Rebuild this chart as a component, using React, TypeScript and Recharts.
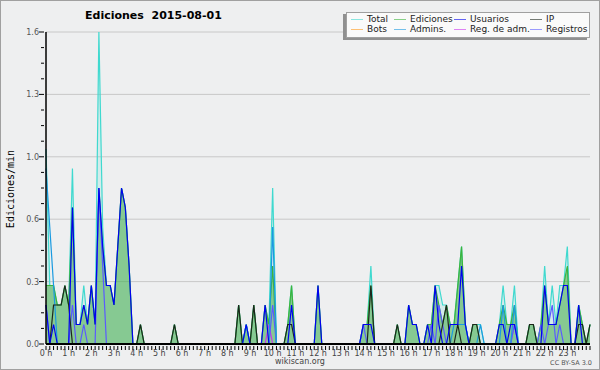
import React from 'react';
import { ComposedChart, Area, Line, XAxis, YAxis, CartesianGrid } from 'recharts';

// 10-minute slots, 0..144 (00:00 .. 24:00), values in edits/min
const TOTAL = [
  1.0, 0.3, 0.3, 0.2, 0.2, 0.3,
  0.2, 0.9, 0.1, 0.1, 0.3, 0.1,
  0.3, 0.1, 1.6, 0.6, 0.3, 0.3,
  0.2, 0.5, 0.8, 0.7, 0.4, 0,
  0, 0.1, 0, 0, 0, 0,
  0, 0, 0, 0, 0.1, 0,
  0, 0, 0, 0, 0, 0,
  0, 0, 0, 0, 0, 0,
  0, 0, 0, 0.2, 0, 0.1,
  0, 0.2, 0, 0, 0.2, 0.1,
  0.8, 0, 0, 0, 0.1, 0.3,
  0, 0, 0, 0, 0, 0,
  0.3, 0, 0, 0, 0, 0,
  0, 0, 0, 0, 0, 0,
  0.1, 0.1, 0.4, 0, 0, 0,
  0, 0, 0, 0.1, 0, 0,
  0.2, 0.1, 0.1, 0, 0, 0.1,
  0.1, 0.3, 0.3, 0.2, 0.2, 0.1,
  0.1, 0.3, 0.5, 0.1, 0, 0.1,
  0.1, 0.1, 0, 0, 0, 0,
  0.1, 0.3, 0.1, 0.1, 0.3, 0,
  0, 0, 0.1, 0.1, 0, 0.1,
  0.4, 0.1, 0.3, 0.1, 0.3, 0.3,
  0.5, 0, 0, 0.2, 0.1, 0,
  0.1,
];

const EDICIONES = [
  0.3, 0.3, 0.3, 0.2, 0.2, 0.3,
  0.2, 0.7, 0.1, 0.1, 0.2, 0.1,
  0.3, 0.1, 0.8, 0.5, 0.3, 0.3,
  0.2, 0.5, 0.8, 0.7, 0.4, 0,
  0, 0.1, 0, 0, 0, 0,
  0, 0, 0, 0, 0.1, 0,
  0, 0, 0, 0, 0, 0,
  0, 0, 0, 0, 0, 0,
  0, 0, 0, 0.2, 0, 0.1,
  0, 0.2, 0, 0, 0.2, 0.1,
  0.4, 0, 0, 0, 0.1, 0.3,
  0, 0, 0, 0, 0, 0,
  0.3, 0, 0, 0, 0, 0,
  0, 0, 0, 0, 0, 0,
  0.1, 0.1, 0.3, 0, 0, 0,
  0, 0, 0, 0.1, 0, 0,
  0.2, 0.1, 0.1, 0, 0, 0.1,
  0.1, 0.3, 0.2, 0.1, 0.2, 0.1,
  0.1, 0.3, 0.5, 0.1, 0, 0.1,
  0.1, 0, 0, 0, 0, 0,
  0.1, 0.2, 0.1, 0.1, 0.2, 0,
  0, 0, 0.1, 0.1, 0, 0.1,
  0.3, 0.1, 0.1, 0.1, 0.2, 0.3,
  0.4, 0, 0, 0.2, 0.1, 0,
  0.1,
];

const USUARIOS = [
  0.2, 0, 0.1, 0, 0, 0,
  0, 0.7, 0.1, 0.1, 0.2, 0.1,
  0.3, 0.1, 0.8, 0.5, 0.3, 0.3,
  0.2, 0.5, 0.8, 0.7, 0.4, 0,
  0, 0, 0, 0, 0, 0,
  0, 0, 0, 0, 0, 0,
  0, 0, 0, 0, 0, 0,
  0, 0, 0, 0, 0, 0,
  0, 0, 0, 0, 0, 0.1,
  0, 0, 0, 0, 0.2, 0,
  0, 0, 0, 0, 0, 0.2,
  0, 0, 0, 0, 0, 0,
  0.3, 0, 0, 0, 0, 0,
  0, 0, 0, 0, 0, 0,
  0.1, 0.1, 0.1, 0, 0, 0,
  0, 0, 0, 0, 0, 0,
  0.2, 0.1, 0.1, 0, 0, 0.1,
  0, 0.3, 0.1, 0, 0, 0.1,
  0.1, 0.1, 0.4, 0.1, 0, 0,
  0, 0, 0, 0, 0, 0,
  0.1, 0.1, 0, 0.1, 0.1, 0,
  0, 0, 0, 0, 0, 0,
  0.3, 0.1, 0.1, 0.1, 0.2, 0.3,
  0.3, 0, 0, 0.2, 0, 0,
  0,
];

const IP = [
  0, 0, 0.2, 0.2, 0.2, 0.3,
  0.2, 0, 0, 0, 0, 0,
  0, 0, 0, 0, 0, 0,
  0, 0, 0, 0, 0, 0,
  0, 0.1, 0, 0, 0, 0,
  0, 0, 0, 0, 0.1, 0,
  0, 0, 0, 0, 0, 0,
  0, 0, 0, 0, 0, 0,
  0, 0, 0, 0.2, 0, 0,
  0, 0.2, 0, 0, 0, 0,
  0, 0, 0, 0, 0.1, 0.1,
  0, 0, 0, 0, 0, 0,
  0, 0, 0, 0, 0, 0,
  0, 0, 0, 0, 0, 0,
  0, 0, 0.3, 0, 0, 0,
  0, 0, 0, 0.1, 0, 0,
  0, 0, 0, 0, 0, 0,
  0, 0, 0, 0.1, 0.2, 0,
  0, 0.1, 0, 0, 0, 0.1,
  0.1, 0, 0, 0, 0, 0,
  0, 0, 0, 0, 0, 0,
  0, 0, 0.1, 0.1, 0, 0,
  0, 0, 0, 0, 0, 0,
  0, 0, 0, 0.1, 0.1, 0,
  0.1,
];

const BOTS = [
  0, 0, 0, 0, 0, 0,  0, 0, 0, 0, 0, 0,  0, 0, 0, 0, 0, 0,  0, 0, 0, 0, 0, 0,
  0, 0, 0, 0, 0, 0,  0, 0, 0, 0, 0, 0,  0, 0, 0, 0, 0, 0,  0, 0, 0, 0, 0, 0,
  0, 0, 0, 0, 0, 0,  0, 0, 0, 0, 0, 0,  0, 0, 0, 0, 0, 0,  0, 0, 0, 0, 0, 0,
  0, 0, 0, 0, 0, 0,  0, 0, 0, 0, 0, 0,  0, 0, 0, 0, 0, 0,  0, 0, 0, 0, 0, 0,
  0, 0, 0, 0, 0, 0,  0, 0, 0, 0, 0, 0,  0, 0, 0, 0, 0, 0,  0, 0, 0, 0, 0, 0,
  0, 0, 0, 0, 0, 0,  0, 0, 0, 0, 0, 0,  0, 0, 0, 0, 0, 0,  0, 0, 0, 0, 0, 0,
  0,
];

const ADMINS = [
  0.9, 0.6, 0.3, 0, 0, 0,
  0, 0, 0, 0, 0, 0,
  0, 0, 0, 0, 0, 0,
  0, 0, 0, 0, 0, 0,
  0, 0, 0, 0, 0, 0,
  0, 0, 0, 0, 0, 0,
  0, 0, 0, 0, 0, 0,
  0, 0, 0, 0, 0, 0,
  0, 0, 0, 0, 0, 0.1,
  0, 0, 0, 0, 0, 0,
  0.6, 0, 0, 0, 0, 0,
  0, 0, 0, 0, 0, 0,
  0, 0, 0, 0, 0, 0,
  0, 0, 0, 0, 0, 0,
  0, 0, 0, 0, 0, 0,
  0, 0, 0, 0, 0, 0,
  0, 0, 0, 0, 0, 0,
  0, 0, 0, 0, 0, 0,
  0.1, 0.1, 0.1, 0.1, 0, 0,
  0, 0.1, 0, 0, 0, 0,
  0, 0.2, 0, 0, 0.2, 0,
  0, 0, 0, 0, 0, 0,
  0, 0, 0, 0, 0, 0,
  0, 0, 0, 0, 0, 0,
  0,
];

const REG_ADM = [
  0, 0, 0, 0, 0, 0,  0, 0, 0, 0, 0, 0,  0, 0, 0, 0, 0, 0,  0, 0, 0, 0, 0, 0,
  0, 0, 0, 0, 0, 0,  0, 0, 0, 0, 0, 0,  0, 0, 0, 0, 0, 0,  0, 0, 0, 0, 0, 0,
  0, 0, 0, 0, 0, 0,  0, 0, 0, 0, 0, 0.1,  0, 0, 0, 0, 0, 0,  0, 0, 0, 0, 0, 0,
  0, 0, 0, 0, 0, 0,  0, 0, 0, 0, 0, 0,  0, 0, 0, 0, 0, 0,  0, 0, 0, 0, 0, 0,
  0, 0, 0, 0, 0, 0,  0, 0, 0, 0, 0, 0,  0, 0, 0, 0, 0, 0,  0, 0, 0, 0, 0, 0,
  0, 0, 0, 0, 0.1, 0,  0, 0, 0, 0, 0, 0,  0, 0, 0, 0, 0, 0,  0, 0, 0, 0, 0, 0,
  0,
];

const REGISTROS = [
  0.2, 0, 0, 0, 0, 0,
  0, 0.2, 0, 0, 0.1, 0,
  0, 0, 0.8, 0.4, 0, 0,
  0, 0, 0, 0, 0, 0,
  0, 0, 0, 0, 0, 0,
  0, 0, 0, 0, 0, 0,
  0, 0, 0, 0, 0, 0,
  0, 0, 0, 0, 0, 0,
  0, 0, 0, 0, 0, 0,
  0, 0, 0, 0, 0, 0,
  0.2, 0, 0, 0, 0, 0,
  0, 0, 0, 0, 0, 0,
  0, 0, 0, 0, 0, 0,
  0, 0, 0, 0, 0, 0,
  0.1, 0, 0, 0, 0, 0,
  0, 0, 0, 0, 0, 0,
  0, 0, 0, 0, 0, 0,
  0.1, 0, 0.2, 0.1, 0, 0,
  0, 0, 0, 0, 0, 0,
  0, 0, 0, 0, 0, 0,
  0, 0, 0, 0, 0.1, 0,
  0, 0, 0, 0, 0, 0.1,
  0, 0.1, 0.2, 0, 0.1, 0,
  0, 0, 0, 0, 0, 0,
  0,
];

const HOUR_LABELS = [
  '0 h', '1 h', '2 h', '3 h', '4 h', '5 h', '6 h', '7 h', '8 h', '9 h', '10 h', '11 h',
  '12 h', '13 h', '14 h', '15 h', '16 h', '17 h', '18 h', '19 h', '20 h', '21 h', '22 h', '23 h',
];

const Y_TICKS = [0, 0.08, 0.16, 0.24, 0.32, 0.4, 0.48, 0.56, 0.64, 0.72, 0.8, 0.88, 0.96, 1.04, 1.12, 1.2, 1.28, 1.36, 1.44, 1.52, 1.6];
const Y_LABELED = [0, 0.32, 0.64, 0.96, 1.28, 1.6];
const GRID_VALUES = [0.32, 0.64, 0.96, 1.28, 1.6];

const TITLE = 'Ediciones  2015-08-01';
const Y_LABEL = 'Ediciones/min';
const FOOTER = 'wikiscan.org';
const LICENSE = 'CC BY-SA 3.0';

const SERIES = [
  { key: 'total', name: 'Total', color: '#3fd9cf' },
  { key: 'ediciones', name: 'Ediciones', color: '#3cb43c' },
  { key: 'usuarios', name: 'Usuarios', color: '#0000f0' },
  { key: 'ip', name: 'IP', color: '#1c261c' },
  { key: 'bots', name: 'Bots', color: '#ff9a1a' },
  { key: 'admins', name: 'Admins.', color: '#1a9ae0' },
  { key: 'regadm', name: 'Reg. de adm.', color: '#cc33ee' },
  { key: 'registros', name: 'Registros', color: '#5a5aff' },
];

const DATA = TOTAL.map((v, i) => ({
  t: i,
  total: v,
  ediciones: EDICIONES[i],
  usuarios: USUARIOS[i],
  ip: IP[i],
  bots: BOTS[i],
  admins: ADMINS[i],
  regadm: REG_ADM[i],
  registros: REGISTROS[i],
}));

const X_TICKS = DATA.map((d) => d.t);

const color = (k: string) => SERIES.find((s) => s.key === k)!.color;

const FONT = '"DejaVu Sans", sans-serif';

const YTick = (props: any) => {
  const { x, y, payload } = props;
  const major = Y_LABELED.some((v) => Math.abs(v - payload.value) < 1e-6);
  return (
    <g>
      <line x1={x - (major ? 5 : 3)} x2={x} y1={y} y2={y} stroke="#000" strokeWidth={1} />
      {major && (
        <text x={x - 5} y={y} dy={3} textAnchor="end" fontSize={8} fill="#555" fontFamily={FONT}>
          {payload.value.toFixed(1)}
        </text>
      )}
    </g>
  );
};

const XTick = (props: any) => {
  const { x, y, payload } = props;
  const v = payload.value as number;
  const hour = v % 6 === 0 && v / 6 < HOUR_LABELS.length;
  return (
    <g>
      <line x1={x} x2={x} y1={y} y2={y + 4} stroke="#000" strokeWidth={1} />
      {hour && (
        <text x={x} y={y + 10} textAnchor="middle" fontSize={8} fill="#444" fontFamily={FONT}>
          {HOUR_LABELS[v / 6]}
        </text>
      )}
    </g>
  );
};

const LEGEND_COLS = [4, 47, 107, 183];

export default function App() {
  return (
    <div style={{ position: 'absolute', left: 0, top: 0, width: 600, height: 370, background: '#eeeff0', fontFamily: FONT }}>
      <ComposedChart width={600} height={370} data={DATA} margin={{ top: 32, right: 10, bottom: 0, left: 0 }}>
        <CartesianGrid horizontal vertical={false} horizontalValues={GRID_VALUES} stroke="#c8c8c8" />
        <XAxis
          dataKey="t"
          type="number"
          domain={[0, 144]}
          ticks={X_TICKS}
          interval={0}
          height={26}
          tickSize={0}
          tickLine={false}
          tick={XTick}
          axisLine={{ stroke: '#000', strokeWidth: 2 }}
        />
        <YAxis
          type="number"
          domain={[0, 1.6]}
          ticks={Y_TICKS}
          interval={0}
          width={46}
          tickSize={0}
          tickLine={false}
          tick={YTick}
          axisLine={{ stroke: '#000', strokeWidth: 1.5 }}
        />
        <Area type="linear" dataKey="total" stroke={color('total')} strokeWidth={1.2} fill={color('total')} fillOpacity={0.15} isAnimationActive={false} dot={false} activeDot={false} />
        <Area type="linear" dataKey="ediciones" stroke={color('ediciones')} strokeWidth={1.2} fill="#3aa83a" fillOpacity={0.5} isAnimationActive={false} dot={false} activeDot={false} />
        {['bots', 'regadm', 'registros', 'admins', 'ip', 'usuarios'].map((k) => (
          <Line key={k} type="linear" dataKey={k} stroke={color(k)} strokeWidth={1.2} dot={false} activeDot={false} isAnimationActive={false} />
        ))}
      </ComposedChart>

      <div style={{ position: 'absolute', left: 85, top: 9, fontSize: 11, fontWeight: 'bold', color: '#000', whiteSpace: 'pre' }}>{TITLE}</div>

      <div style={{ position: 'absolute', left: 10, top: 189, width: 0, height: 0 }}>
        <div style={{ position: 'absolute', transform: 'translate(-50%, -50%) rotate(-90deg)', fontFamily: '"DejaVu Sans Mono", monospace', fontSize: 10, whiteSpace: 'nowrap', color: '#000' }}>{Y_LABEL}</div>
      </div>

      <div style={{ position: 'absolute', left: 346, top: 12, width: 244, height: 26, background: '#fafafa', border: '1px solid #a0a0a0', boxShadow: '-3px 2px 0 #909090', boxSizing: 'border-box' }}>
        {SERIES.map((s, i) => {
          const col = i % 4;
          const row = Math.floor(i / 4);
          const left = LEGEND_COLS[col];
          const cy = 6 + row * 10;
          return (
            <div key={s.key}>
              <div style={{ position: 'absolute', left, top: cy, width: 12, height: 1, background: s.color, opacity: 0.6 }} />
              <div style={{ position: 'absolute', left: left + 16, top: cy - 6, fontSize: 9, lineHeight: '12px', color: '#222', whiteSpace: 'nowrap' }}>{s.name}</div>
            </div>
          );
        })}
      </div>

      <div style={{ position: 'absolute', left: 0, width: 600, top: 357, textAlign: 'center', fontSize: 8, lineHeight: '9px', color: '#444' }}>{FOOTER}</div>
      <div style={{ position: 'absolute', right: 8, top: 359, fontSize: 6.5, lineHeight: '8px', color: '#555' }}>{LICENSE}</div>
      <div style={{ position: 'absolute', left: 0, top: 0, width: 600, height: 370, border: '1px solid #a0a0a0', boxSizing: 'border-box', pointerEvents: 'none' }} />
    </div>
  );
}
